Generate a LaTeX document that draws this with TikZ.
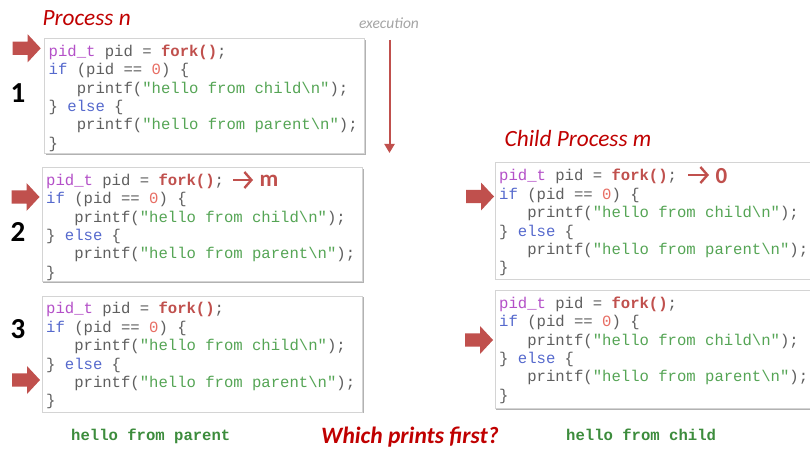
\documentclass[tikz,border=0pt]{standalone}
\usepackage{fontspec}
\usetikzlibrary{shadows,arrows.meta}
\newfontfamily\calibri{Carlito}
\newfontfamily\mono{Liberation Mono}
\definecolor{cgray}{RGB}{95,95,95}
\definecolor{cpurple}{RGB}{180,80,200}
\definecolor{cblue}{RGB}{85,105,205}
\definecolor{czero}{RGB}{232,110,100}
\definecolor{cstr}{RGB}{85,165,85}
\definecolor{cfork}{RGB}{192,80,77}
\definecolor{ctitle}{RGB}{192,0,0}
\definecolor{cexec}{RGB}{165,165,165}
\definecolor{cborder}{RGB}{212,212,212}
\definecolor{cout}{RGB}{60,140,60}
\newcommand\codeblock[1]{%
  \node[codeline] (#1-l1) at ([shift={(4.5,18.3)}]#1.north west) {\textcolor{cpurple}{pid\_t} pid = \textcolor{cfork}{\bfseries fork()};};
  \node[codeline] (#1-l2) at ([shift={(4.5,36.7)}]#1.north west) {\textcolor{cblue}{if} (pid == \textcolor{czero}{0}) \{};
  \node[codeline] (#1-l3) at ([shift={(4.5,55.1)}]#1.north west) {\hphantom{000}printf(\textcolor{cstr}{"hello from child\textbackslash n"});};
  \node[codeline] (#1-l4) at ([shift={(4.5,73.5)}]#1.north west) {\} \textcolor{cblue}{else} \{};
  \node[codeline] (#1-l5) at ([shift={(4.5,91.9)}]#1.north west) {\hphantom{000}printf(\textcolor{cstr}{"hello from parent\textbackslash n"});};
  \node[codeline] (#1-l6) at ([shift={(4.5,110.3)}]#1.north west) {\}};
}
\begin{document}
\begin{tikzpicture}[x=1pt,y=-1pt,
  codebox/.style={draw=cborder, line width=0.8pt, fill=white, anchor=north west, inner sep=0pt,
    drop shadow={shadow xshift=1.3pt, shadow yshift=-1.5pt, opacity=0.3, fill=black}},
  codeline/.style={anchor=base west, inner sep=0pt, text=cgray, font=\mono\fontsize{15.6}{18}\selectfont},
  title/.style={anchor=base west, inner sep=0pt, text=ctitle, font=\calibri\itshape\fontsize{23.3}{23}\selectfont},
  stepnum/.style={inner sep=0pt, font=\calibri\bfseries\fontsize{29}{29}\selectfont},
  retval/.style={anchor=base west, inner sep=0pt, text=cfork, font=\calibri\bfseries\fontsize{23}{23}\selectfont},
  retarrow/.style={draw=cfork, line width=2.4pt, -{Straight Barb[length=7pt,width=16pt]}},
  output/.style={anchor=base west, inner sep=0pt, text=cout, font=\mono\bfseries\fontsize{15.6}{18}\selectfont},
  blockarrow/.pic={\fill[cfork] (0,0) -- (-13,-14) -- (-13,-6.7) -- (-28,-6.7) -- (-28,6.7) -- (-13,6.7) -- (-13,14) -- cycle;}
]
\fill[white] (0,0) rectangle (810,449);
\useasboundingbox (0,0) rectangle (810,449);

% titles
\node[title] (pn) at (42.5,25.5) {Process n};
\node[title] (cpm) at (504.5,146.5) {Child Process m};
\node[inner sep=0pt, text=cexec, font=\calibri\itshape\fontsize{15.5}{15.5}\selectfont] (exec) at (389,23) {execution};
\coordinate (et) at (389.5,40);
\coordinate (eb) at (389.5,153);
\draw[draw=cfork, line width=2pt, -{Triangle[length=9pt,width=10pt]}] (et) -- (eb);

% boxes
\node[codebox, minimum width=320pt, minimum height=115pt] (b1) at (44,38) {};
\node[codebox, minimum width=320.5pt, minimum height=114pt] (b2) at (41.5,167) {};
\node[codebox, minimum width=320.5pt, minimum height=116pt] (b3) at (41.5,295.5) {};
\node[codebox, minimum width=340pt, minimum height=116pt] (rb1) at (494.5,162.5) {};
\node[codebox, minimum width=340pt, minimum height=118pt] (rb2) at (494.5,290) {};

\codeblock{b1}
\codeblock{b2}
\codeblock{b3}
\codeblock{rb1}
\codeblock{rb2}

% step numbers
\node[stepnum] (n1) at (18,93) {1};
\node[stepnum] (n2) at (18,232) {2};
\node[stepnum] (n3) at (18,329) {3};

% block arrows
\pic (pa1) at (40.7,48.3) {blockarrow};
\pic (pa2) at (39.5,197) {blockarrow};
\pic (pa3) at (40,380) {blockarrow};
\pic (pa4) at (494,196.5) {blockarrow};
\pic (pa5) at (493,340) {blockarrow};

% return values
\coordinate (ra1) at (233,180);
\coordinate (ra2) at (253,180);
\draw[retarrow] (ra1) -- (ra2);
\node[retval] (rm) at (259.5,186) {m};
\coordinate (rb1s) at (688,175);
\coordinate (rb1e) at (709,175);
\draw[retarrow] (rb1s) -- (rb1e);
\node[retval] (r0) at (715.5,183.3) {0};

% outputs
\node[output] (op) at (71,440) {hello from parent};
\node[output] (oc) at (566,440.5) {hello from child};
\node[anchor=base west, inner sep=0pt, text=ctitle, font=\calibri\bfseries\itshape\fontsize{23.5}{23.5}\selectfont] (q) at (321,443.5) {Which prints first?};
\end{tikzpicture}
\end{document}
